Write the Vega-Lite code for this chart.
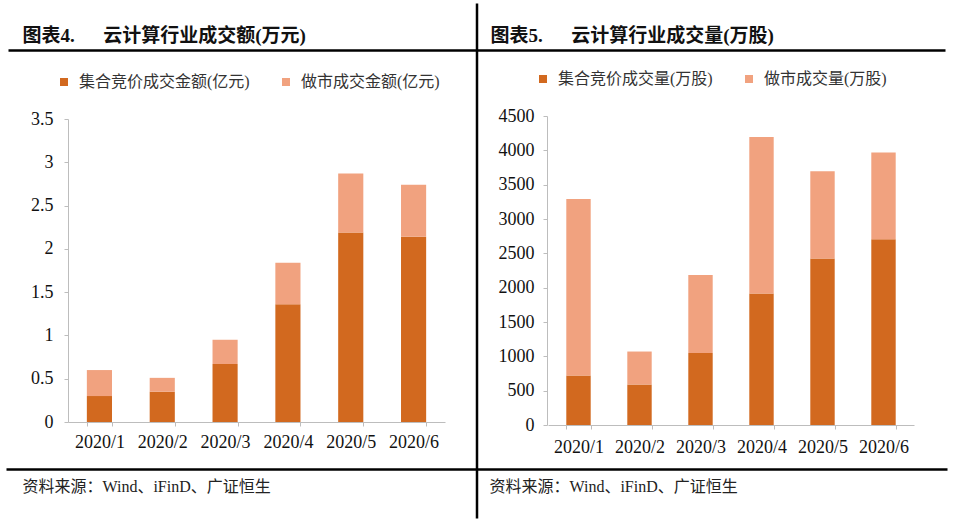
{
  "$schema": "https://vega.github.io/schema/vega-lite/v6.json",
  "width": 953,
  "height": 521,
  "autosize": {"type": "none"},
  "padding": 0,
  "background": "white",
  "datasets": {
    "amount": [
      {"month": "2020/1", "series": "集合竞价成交金额(亿元)", "value": 0.30},
      {"month": "2020/1", "series": "做市成交金额(亿元)", "value": 0.30},
      {"month": "2020/2", "series": "集合竞价成交金额(亿元)", "value": 0.35},
      {"month": "2020/2", "series": "做市成交金额(亿元)", "value": 0.16},
      {"month": "2020/3", "series": "集合竞价成交金额(亿元)", "value": 0.67},
      {"month": "2020/3", "series": "做市成交金额(亿元)", "value": 0.28},
      {"month": "2020/4", "series": "集合竞价成交金额(亿元)", "value": 1.36},
      {"month": "2020/4", "series": "做市成交金额(亿元)", "value": 0.48},
      {"month": "2020/5", "series": "集合竞价成交金额(亿元)", "value": 2.19},
      {"month": "2020/5", "series": "做市成交金额(亿元)", "value": 0.68},
      {"month": "2020/6", "series": "集合竞价成交金额(亿元)", "value": 2.14},
      {"month": "2020/6", "series": "做市成交金额(亿元)", "value": 0.60}
    ],
    "volume": [
      {"month": "2020/1", "series": "集合竞价成交量(万股)", "value": 720},
      {"month": "2020/1", "series": "做市成交量(万股)", "value": 2570},
      {"month": "2020/2", "series": "集合竞价成交量(万股)", "value": 590},
      {"month": "2020/2", "series": "做市成交量(万股)", "value": 480},
      {"month": "2020/3", "series": "集合竞价成交量(万股)", "value": 1050},
      {"month": "2020/3", "series": "做市成交量(万股)", "value": 1135},
      {"month": "2020/4", "series": "集合竞价成交量(万股)", "value": 1915},
      {"month": "2020/4", "series": "做市成交量(万股)", "value": 2280},
      {"month": "2020/5", "series": "集合竞价成交量(万股)", "value": 2425},
      {"month": "2020/5", "series": "做市成交量(万股)", "value": 1270},
      {"month": "2020/6", "series": "集合竞价成交量(万股)", "value": 2705},
      {"month": "2020/6", "series": "做市成交量(万股)", "value": 1265}
    ],
    "frame": [{"p": 0}, {"p": 1}]
  },
  "layer": [
    {
      "data": {"name": "amount"},
      "mark": {"type": "bar"},
      "encoding": {
        "x": {
          "field": "month", "type": "ordinal", "sort": null,
          "scale": {"range": [68, 445], "paddingInner": 0.6, "paddingOuter": 0.3},
          "axis": {"orient": "bottom", "offset": -99, "title": null, "labelAngle": 0,
            "domainColor": "#BDBDBD", "tickColor": "#BDBDBD", "tickBand": "extent", "tickSize": 4,
            "labelFont": "Liberation Serif", "labelFontSize": 18, "labelColor": "#111", "labelPadding": 7}
        },
        "y": {
          "field": "value", "type": "quantitative",
          "scale": {"domain": [0, 3.5], "range": [422, 119], "nice": false},
          "axis": {"orient": "left", "offset": -68, "title": null, "values": [0, 0.5, 1, 1.5, 2, 2.5, 3, 3.5], "format": "~g",
            "domainColor": "#BDBDBD", "tickColor": "#BDBDBD", "tickSize": 4, "grid": false,
            "labelFont": "Liberation Serif", "labelFontSize": 18, "labelColor": "#111", "labelPadding": 11}
        },
        "color": {
          "field": "series", "type": "nominal",
          "scale": {"domain": ["集合竞价成交金额(亿元)", "做市成交金额(亿元)"], "range": ["#D2691F", "#F1A27F"]},
          "legend": {"orient": "none", "legendX": 56, "legendY": 74, "direction": "horizontal", "title": null,
            "symbolType": "square", "symbolSize": 64, "symbolStrokeWidth": 0, "labelOffset": 7, "columnPadding": 28,
            "labelFont": "'Liberation Serif', 'Noto Sans CJK SC', serif", "labelFontSize": 16, "labelColor": "#333", "labelLimit": 300, "padding": 0}
        },
        "order": {"field": "series", "sort": "descending"}
      }
    },
    {
      "data": {"name": "volume"},
      "mark": {"type": "bar"},
      "encoding": {
        "x": {
          "field": "month", "type": "ordinal", "sort": null,
          "scale": {"range": [548, 914], "paddingInner": 0.6, "paddingOuter": 0.3},
          "axis": {"orient": "bottom", "offset": -96, "title": null, "labelAngle": 0,
            "domainColor": "#BDBDBD", "tickColor": "#BDBDBD", "tickBand": "extent", "tickSize": 4,
            "labelFont": "Liberation Serif", "labelFontSize": 18, "labelColor": "#111", "labelPadding": 9}
        },
        "y": {
          "field": "value", "type": "quantitative",
          "scale": {"domain": [0, 4500], "range": [425, 116], "nice": false},
          "axis": {"orient": "left", "offset": -547, "title": null, "values": [0, 500, 1000, 1500, 2000, 2500, 3000, 3500, 4000, 4500], "format": "d",
            "domainColor": "#BDBDBD", "tickColor": "#BDBDBD", "tickSize": 4, "grid": false,
            "labelFont": "Liberation Serif", "labelFontSize": 18, "labelColor": "#111", "labelPadding": 9}
        },
        "color": {
          "field": "series", "type": "nominal",
          "scale": {"domain": ["集合竞价成交量(万股)", "做市成交量(万股)"], "range": ["#D2691F", "#F1A27F"]},
          "legend": {"orient": "none", "legendX": 535, "legendY": 71, "direction": "horizontal", "title": null,
            "symbolType": "square", "symbolSize": 64, "symbolStrokeWidth": 0, "labelOffset": 7, "columnPadding": 28,
            "labelFont": "'Liberation Serif', 'Noto Sans CJK SC', serif", "labelFontSize": 16, "labelColor": "#333", "labelLimit": 300, "padding": 0}
        },
        "order": {"field": "series", "sort": "descending"}
      }
    },
    {
      "data": {"name": "frame"},
      "mark": {"type": "point", "opacity": 0},
      "encoding": {
        "x": {
          "field": "p", "type": "quantitative",
          "scale": {"domain": [0, 1], "range": [8, 945], "nice": false, "zero": false},
          "axis": {"orient": "top", "offset": -50, "domain": true, "domainColor": "#000", "domainWidth": 2.5,
            "ticks": false, "labels": false, "grid": false,
            "title": "图表4.\u3000\u2002云计算行业成交额(万元)", "titleX": 22, "titleY": -9, "titleAlign": "left", "titleAnchor": null,
            "titleBaseline": "alphabetic", "titleFont": "'Liberation Serif', 'Noto Sans CJK SC', serif", "titleFontSize": 19, "titleFontWeight": "bold", "titleColor": "#111"}
        },
        "y": {
          "field": "p", "type": "quantitative",
          "scale": {"domain": [0, 1], "range": [518, 3], "nice": false, "zero": false},
          "axis": {"orient": "left", "offset": -476.5, "domain": true, "domainColor": "#000", "domainWidth": 2.5,
            "ticks": false, "labels": false, "grid": false, "title": null}
        }
      }
    },
    {
      "data": {"name": "frame"},
      "mark": {"type": "point", "opacity": 0},
      "encoding": {
        "x": {
          "field": "p", "type": "quantitative",
          "scale": {"domain": [0, 1], "range": [476, 945], "nice": false, "zero": false},
          "axis": {"orient": "top", "offset": -50, "domain": false,
            "ticks": false, "labels": false, "grid": false,
            "title": "图表5.\u3000\u2002云计算行业成交量(万股)", "titleX": 490, "titleY": -9, "titleAlign": "left", "titleAnchor": null,
            "titleBaseline": "alphabetic", "titleFont": "'Liberation Serif', 'Noto Sans CJK SC', serif", "titleFontSize": 19, "titleFontWeight": "bold", "titleColor": "#111"}
        }
      }
    },
    {
      "data": {"name": "frame"},
      "mark": {"type": "point", "opacity": 0},
      "encoding": {
        "x": {
          "field": "p", "type": "quantitative",
          "scale": {"domain": [0, 1], "range": [6, 947], "nice": false, "zero": false},
          "axis": {"orient": "bottom", "offset": -52, "domain": true, "domainColor": "#000", "domainWidth": 2.5,
            "ticks": false, "labels": false, "grid": false,
            "title": "资料来源：Wind、iFinD、广证恒生", "titleX": 22, "titleY": 22, "titleAlign": "left", "titleAnchor": null,
            "titleBaseline": "alphabetic", "titleFont": "'Liberation Serif', 'Noto Sans CJK SC', serif", "titleFontSize": 16, "titleFontWeight": "normal", "titleColor": "#222"}
        }
      }
    },
    {
      "data": {"name": "frame"},
      "mark": {"type": "point", "opacity": 0},
      "encoding": {
        "x": {
          "field": "p", "type": "quantitative",
          "scale": {"domain": [0, 1], "range": [476, 947], "nice": false, "zero": false},
          "axis": {"orient": "bottom", "offset": -52, "domain": false,
            "ticks": false, "labels": false, "grid": false,
            "title": "资料来源：Wind、iFinD、广证恒生", "titleX": 489, "titleY": 22, "titleAlign": "left", "titleAnchor": null,
            "titleBaseline": "alphabetic", "titleFont": "'Liberation Serif', 'Noto Sans CJK SC', serif", "titleFontSize": 16, "titleFontWeight": "normal", "titleColor": "#222"}
        }
      }
    }
  ],
  "resolve": {
    "scale": {"x": "independent", "y": "independent", "color": "independent"},
    "axis": {"x": "independent", "y": "independent"},
    "legend": {"color": "independent"}
  },
  "config": {
    "view": {"stroke": null},
    "axis": {"grid": false}
  }
}
